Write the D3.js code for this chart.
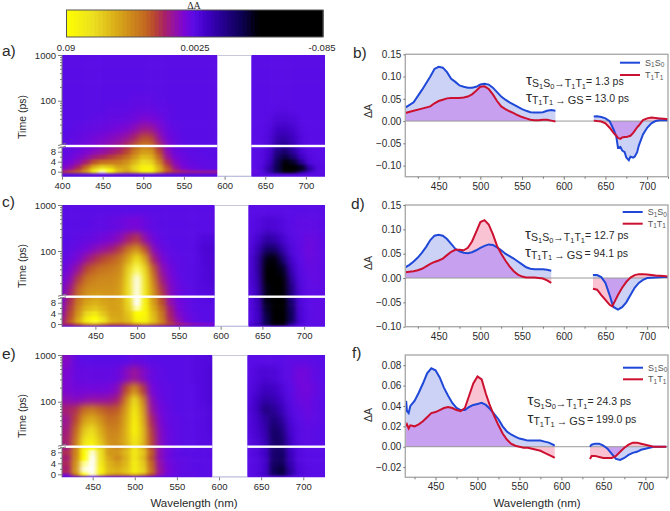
<!DOCTYPE html>
<html><head><meta charset="utf-8">
<script src="https://cdn.jsdelivr.net/npm/d3@7"></script>
<style>html,body{margin:0;padding:0;background:#fff}svg{display:block}svg text{font-family:"Liberation Sans",Arial,sans-serif;fill:#2a2a2a}</style>
</head><body>
<svg id="c" width="670" height="511" viewBox="0 0 670 511"></svg>
<script>
// ---------- colour key (values in 1e-3 dA) ----------
const colorValues=[-85,-41,-30,-15,-5,3,9,16,23,30,37,55,72,90,93,97];
const colorHex=["#000000","#000000","#0c0050","#2a0098","#4200c8","#5a0ce6","#7806d8","#9410a8","#a82068","#b84830","#c46c20","#d8a818","#ece020","#ffff00","#ffff60","#ffffff"];
const barLabels=["0.09","0.0025","-0.085"];
const heatTimes=[-1,0,1,2,4,6,8,10,15,25,40,70,110,180,350,1000];
const timeMajorLow=[0,4,8];
const timeMinorLow=[2,6,10];
const timeMajorHigh=[100,1000];
const timeMinorHigh=[20,30,40,50,60,70,80,90,200,300,400,500,600,700,800,900];

// ---------- heat map a ----------
const colsAL=[400,410,420,430,440,450,460,470,480,490,500,510,520,530,540,550,560,570,580,590];
const colsR=[635,645,655,665,675,685,695,705,715,725];
const heatAL=[
[2,2,2,2,2,2,2,2,2,2,2,2,2,2,2,2,2,2,2,2],
[25,30,35,50,80,96,90,60,50,60,80,80,50,30,25,22,20,20,20,20],
[12,18,28,45,75,92,85,60,55,70,85,85,60,35,20,12,8,6,5,5],
[9,13,22,35,55,66,62,52,55,68,82,80,55,30,16,9,6,5,4,4],
[6,9,14,22,32,38,40,42,48,60,72,68,45,24,12,7,5,4,4,4],
[5,6,10,14,20,24,28,32,38,50,62,58,36,18,9,6,4,4,3,3],
[4,5,7,10,13,16,20,24,30,42,52,50,30,14,7,5,4,3,3,3],
[4,4,6,8,10,13,16,20,26,36,44,42,26,12,6,4,3,3,3,3],
[3,4,5,6,8,10,12,14,18,24,32,30,17,8,5,3,3,3,3,3],
[3,3,4,5,5,6,7,9,10,14,19,18,11,6,4,3,3,3,3,3],
[3,3,3,3,4,4,5,5,6,7,10,9,7,4,3,3,3,3,3,3],
[3,3,3,3,3,3,4,4,4,5,5,5,4,4,3,3,3,3,3,3],
[3,3,3,3,3,3,3,3,3,4,4,4,3,3,3,3,3,3,3,3],
[3,3,3,3,3,3,3,3,3,3,3,3,3,3,3,3,3,3,3,3],
[3,3,3,3,3,3,3,3,3,3,3,3,3,3,3,3,3,3,3,3],
[3,3,3,3,3,3,3,3,3,3,3,3,3,3,3,3,3,3,3,3]];
const heatAR=[
[2,2,2,2,2,2,2,2,2,2],
[6,2,-10,-30,-45,-40,-20,-3,2,3],
[3,0,-12,-30,-50,-50,-38,-15,0,2],
[3,1,-10,-30,-48,-50,-35,-8,1,3],
[3,2,-6,-28,-40,-35,-15,0,2,3],
[3,2,-4,-24,-32,-22,-6,1,3,3],
[3,2,-3,-20,-25,-14,-2,2,3,3],
[3,3,-1,-14,-18,-10,0,3,3,3],
[3,3,0,-10,-12,-6,1,3,3,3],
[3,3,1,-5,-6,-3,2,3,3,3],
[3,3,2,-1,-1,0,3,3,3,3],
[3,3,3,2,2,3,3,3,3,3],
[3,3,3,3,3,3,3,3,3,3],
[3,3,3,3,3,3,3,3,3,3],
[3,3,3,3,3,3,3,3,3,3],
[3,3,3,3,3,3,3,3,3,3]];

// ---------- heat map c ----------
const colsCL=[410,420,430,440,450,460,470,480,490,500,510,520,530,540,550,560,570,580,590];
const heatCL=[
[3,3,3,3,3,3,3,3,3,3,3,3,3,3,3,3,3,3,3],
[22,25,35,50,55,45,35,35,40,50,55,45,35,28,22,18,14,12,10],
[20,35,58,80,92,74,58,55,60,82,80,62,44,26,15,8,5,4,4],
[18,32,55,80,90,72,56,55,62,86,84,62,42,24,13,7,4,3,3],
[15,30,50,70,78,64,54,54,64,90,86,60,40,22,11,6,4,3,3],
[13,28,46,60,64,58,52,54,68,95,84,56,36,20,9,5,3,3,3],
[11,26,42,54,58,54,52,54,70,97,82,52,32,16,8,5,3,2,2],
[10,24,40,50,54,52,50,54,72,99,80,50,30,14,7,4,3,2,1],
[8,20,36,46,48,48,48,52,74,99,78,48,26,12,6,4,2,1,0],
[7,14,28,40,44,46,46,50,72,99,76,42,20,10,5,3,2,0,-1],
[5,10,18,30,36,40,42,46,68,93,70,34,15,8,4,3,2,0,-1],
[4,6,10,18,25,30,34,40,55,75,55,22,10,5,4,3,3,-1,-1],
[3,4,6,9,13,17,21,28,40,50,32,13,6,4,3,3,2,-2,-2],
[3,3,4,5,6,8,10,14,22,27,15,7,4,3,3,3,3,0,0],
[3,3,3,3,4,4,5,6,8,9,6,4,3,3,3,3,3,3,3],
[3,3,3,3,3,3,3,3,3,3,3,3,3,3,3,3,3,3,3]];
const heatCR=[
[3,3,3,3,3,3,3,3,3,3],
[-2,-10,-30,-50,-40,-15,0,3,3,3],
[2,-5,-30,-60,-55,-25,-3,3,4,4],
[2,-5,-30,-60,-58,-28,-3,3,4,4],
[2,-5,-32,-60,-58,-28,-2,3,4,4],
[1,-6,-34,-60,-58,-26,-2,3,4,4],
[1,-7,-36,-60,-55,-24,-1,3,4,4],
[1,-8,-38,-60,-52,-20,0,4,4,4],
[1,-8,-38,-60,-52,-20,0,4,4,4],
[0,-10,-42,-58,-46,-14,1,4,5,4],
[0,-12,-45,-52,-36,-8,2,5,5,4],
[0,-12,-38,-40,-22,-3,3,6,5,4],
[1,-8,-25,-25,-10,0,4,7,5,4],
[2,-3,-12,-10,-3,2,4,6,5,4],
[3,1,-2,-1,1,3,4,4,4,3],
[3,3,3,3,3,3,3,3,3,3]];

// ---------- heat map e ----------
const colsEL=[420,430,440,450,460,470,480,490,500,510,520,530,540,550,560,570,580,590];
const heatEL=[
[3,3,3,3,3,3,3,3,3,3,3,3,3,3,3,3,3,3],
[12,40,90,96,70,50,45,50,60,50,30,15,8,5,4,4,3,3],
[25,50,95,100,85,62,58,65,82,70,40,18,9,5,4,4,3,3],
[22,50,96,100,82,60,56,62,80,68,38,17,9,5,4,3,3,3],
[24,48,94,100,78,58,52,60,80,66,36,16,8,5,4,3,3,3],
[22,45,90,98,74,54,46,58,78,62,32,14,7,4,4,3,3,2],
[25,44,88,96,72,50,50,60,78,64,34,14,7,4,3,3,3,2],
[20,42,82,90,68,50,46,56,76,60,30,13,7,4,3,3,2,2],
[22,40,74,80,62,46,48,58,80,62,30,13,6,4,3,3,2,1],
[20,36,64,72,56,44,44,58,86,62,28,12,6,4,3,3,2,0],
[18,30,52,58,48,38,40,56,84,58,24,10,5,4,3,3,2,0],
[22,26,38,42,36,32,34,52,80,54,18,8,5,3,3,3,2,0],
[14,12,14,16,16,17,22,44,72,46,14,6,4,3,3,3,1,-1],
[10,8,8,8,8,9,13,30,48,28,9,5,4,3,3,3,1,-1],
[10,6,5,5,5,5,6,12,18,12,6,4,3,3,3,2,1,-1],
[12,5,3,3,3,3,3,3,5,4,3,3,3,3,3,2,1,0]];
const heatER=[
[3,3,3,3,3,3,3,3,3,3],
[3,0,-5,-25,-30,-12,0,2,3,3],
[3,1,-4,-28,-32,-14,-1,2,3,3],
[3,1,-4,-28,-32,-12,0,2,3,3],
[3,1,-4,-26,-28,-10,0,3,3,3],
[3,1,-4,-24,-26,-8,1,3,3,3],
[3,0,-5,-24,-25,-7,1,3,3,3],
[2,0,-6,-24,-24,-6,1,3,3,3],
[2,-2,-8,-26,-24,-5,2,4,3,3],
[1,-3,-10,-26,-20,-3,2,4,3,3],
[1,-4,-12,-22,-14,-1,3,5,4,3],
[0,-6,-20,-16,-8,1,4,6,4,3],
[1,-5,-12,-10,-4,2,6,7,4,3],
[2,-2,-7,-6,-1,3,7,8,5,3],
[3,0,-2,-1,2,4,8,7,4,3],
[3,3,3,3,3,4,4,4,3,3]];

// ---------- spectra b ----------
const wlBL=[410,420,430,440,445,450,455,460,465,470,475,480,485,490,495,500,505,510,515,520,525,530,535,540,545,550,555,560,565,570,575,580,585,590];
const s1BL=[.03,.042,.07,.10,.117,.122,.12,.11,.095,.088,.08,.077,.075,.075,.077,.082,.084,.082,.075,.065,.055,.048,.042,.037,.032,.027,.023,.02,.019,.019,.02,.023,.025,.023];
const t1BL=[.018,.023,.028,.033,.04,.045,.048,.051,.052,.052,.052,.053,.055,.06,.068,.077,.078,.072,.06,.045,.033,.027,.022,.018,.013,.009,.006,.003,.002,.002,.003,.003,.001,-.001];
const wlBR=[636,640,645,650,655,660,663,665,668,670,673,675,678,680,683,685,688,690,695,700,705,710,715,720,725];
const s1BR=[.01,.011,.009,.006,0,-.02,-.035,-.06,-.058,-.066,-.07,-.082,-.088,-.08,-.082,-.08,-.07,-.055,-.03,-.015,-.005,0,.002,.002,.002];
const t1BR=[.001,0,-.001,-.005,-.015,-.027,-.033,-.038,-.04,-.037,-.036,-.036,-.034,-.033,-.027,-.022,-.014,-.01,.002,.006,.008,.007,.006,.005,.004];

// ---------- spectra d ----------
const wlDL=[410,415,420,425,430,435,440,445,450,455,460,465,470,475,480,485,490,495,500,505,510,515,520,525,530,535,540,545,550,555,560,565,570,575,580,585];
const s1DL=[.022,.027,.034,.042,.052,.064,.078,.087,.089,.087,.08,.07,.06,.055,.052,.051,.053,.057,.062,.066,.069,.068,.063,.057,.05,.045,.04,.034,.028,.022,.019,.018,.018,.018,.017,.015];
const t1DL=[.012,.013,.014,.016,.019,.024,.029,.033,.036,.04,.047,.054,.058,.058,.057,.062,.075,.095,.115,.119,.11,.09,.066,.05,.036,.024,.014,.007,.003,.001,.001,.001,0,-.001,-.005,-.01];
const wlDR=[635,640,645,650,655,658,660,665,670,675,680,685,690,695,700,710,720,725];
const s1DR=[.006,.006,.002,-.01,-.035,-.052,-.06,-.065,-.06,-.05,-.035,-.02,-.01,-.004,0,.001,.002,.002];
const t1DR=[-.022,-.024,-.035,-.045,-.055,-.058,-.052,-.035,-.02,-.008,.001,.006,.008,.008,.007,.005,.004,.003];

// ---------- spectra f ----------
const wlFL=[415,416,418,420,425,430,435,440,445,450,455,460,465,470,475,480,485,490,495,500,505,510,515,520,525,530,535,540,545,550,555,560,565,570,575,580,585,590,592];
const s1FL=[.045,.035,.033,.04,.045,.053,.062,.072,.077,.075,.068,.058,.05,.043,.038,.036,.036,.039,.041,.042,.043,.041,.037,.032,.027,.02,.015,.012,.01,.008,.007,.006,.006,.006,.006,.005,.004,.002,.001];
const t1FL=[.02,.022,.018,.021,.02,.022,.025,.029,.033,.034,.036,.038,.039,.038,.036,.035,.038,.05,.062,.069,.066,.052,.04,.03,.021,.013,.007,.003,.001,0,-.001,-.001,-.002,-.003,-.004,-.006,-.008,-.01,-.011];
const wlFR=[634,636,640,645,650,655,660,665,670,675,680,685,690,695,700,705,710,715,720,725];
const s1FR=[0,.002,.003,.003,.001,-.002,-.007,-.012,-.013,-.011,-.008,-.006,-.005,-.003,-.002,-.001,0,0,0,0];
const t1FR=[-.012,-.009,-.009,-.01,-.011,-.011,-.011,-.009,-.005,-.001,.002,.004,.004,.003,.002,.001,0,0,0,0];

const xMajor=[400,450,500,550,600,650,700];
const xMinor=[425,475,525,575,625,675,725];
const ticksB=[-.10,-.05,0,.05,.10,.15];
const ticksD=[-.10,-.05,0,.05,.10,.15];
const ticksF=[-.02,0,.02,.04,.06,.08];

// ---------- drawing ----------
const svg=d3.select("#c");
const defs=svg.append("defs");
const AXC="#7a7a7a";
const FONT='"Liberation Sans",Arial,sans-serif';
const col=d3.scaleLinear().domain(colorValues).range(colorHex).clamp(true);

function addBlur(id,sd){
  const f=defs.append("filter").attr("id",id).attr("x","-20%").attr("y","-20%").attr("width","140%").attr("height","140%")
    .attr("color-interpolation-filters","sRGB");
  f.append("feGaussianBlur").attr("stdDeviation",sd);
}
addBlur("blLow","2.8 1.1");
addBlur("blHigh","3.2 3.4");

// colour bar
const barX=d3.scaleLinear().domain([0,.5,1]).range([90,2.5,-85]);
const barPos=d3.scaleLinear().domain([0,1]).range([66.5,323]);
svg.append("g").selectAll("rect").data(d3.range(0,1,1/64)).join("rect")
  .attr("x",d=>barPos(d)).attr("y",10).attr("width",barPos(1/64)-barPos(0)+.5).attr("height",27)
  .attr("fill",d=>col(barX(d+1/128)));
svg.append("rect").attr("x",66.5).attr("y",10).attr("width",256.5).attr("height",27).attr("fill","none").attr("stroke","#555").attr("stroke-width",1);
svg.append("text").text("ΔA").attr("x",194).attr("y",8.5).attr("text-anchor","middle").attr("font-size",10).style("font-family","'Liberation Serif',serif");
[[66,barLabels[0]],[195,barLabels[1]],[322,barLabels[2]]].forEach(([x,t])=>{
  svg.append("text").text(t).attr("x",x).attr("y",50.5).attr("text-anchor","middle").attr("font-size",9.5);
});

function cellEdges(centres,lo,hi){
  const e=[lo];
  for(let i=1;i<centres.length;i++) e.push((centres[i-1]+centres[i])/2);
  e.push(hi);
  return e;
}

function heatPanel(o){
  const xS=d3.scaleLinear().domain(o.xd).range([62,325]);
  const lowS=d3.scaleLinear().domain([0,8]).range([o.y0,o.y8]);
  const hiS=d3.scaleLog().domain([100,1000]).range([o.y100,o.top]);
  const tY=t=>t<=10?lowS(t):hiS(t);
  const rowY=heatTimes.map(tY);
  const rowE=cellEdges(rowY,o.bottom+20,o.top-20);
  const g=svg.append("g");
  defs.append("clipPath").attr("id","up"+o.name).append("rect").attr("x",0).attr("y",o.top).attr("width",670).attr("height",o.brk-o.top);
  defs.append("clipPath").attr("id","lo"+o.name).append("rect").attr("x",0).attr("y",o.brk).attr("width",670).attr("height",o.bottom-o.brk);
  [[o.colsL,o.heatL,xS(o.xd[0]),o.gapL,"L"],[colsR,o.heatR,o.gapR,325,"R"]].forEach(([cols,mat,x0,x1,k])=>{
    const id="clip"+o.name+k;
    defs.append("clipPath").attr("id",id).append("rect").attr("x",x0).attr("y",o.top).attr("width",x1-x0).attr("height",o.bottom-o.top);
    const cx=cols.map(c=>xS(c));
    const colE=cellEdges(cx,Math.min(x0,cx[0])-20,x1+20);
    const clip=g.append("g").attr("clip-path",`url(#${id})`);
    const cells=[];
    mat.forEach((row,r)=>row.forEach((v,c)=>cells.push({r,c,v})));
    [["blLow","lo"],["blHigh","up"]].forEach(([fl,part])=>{
      const wrap=clip.append("g").attr("clip-path",`url(#${part}${o.name})`);
      wrap.append("g").attr("filter",`url(#${fl})`).selectAll("rect").data(cells).join("rect")
        .attr("x",d=>colE[d.c]-.3).attr("width",d=>colE[d.c+1]-colE[d.c]+.6)
        .attr("y",d=>rowE[d.r+1]-.3).attr("height",d=>rowE[d.r]-rowE[d.r+1]+.6)
        .attr("fill",d=>col(d.v));
    });
    g.append("rect").attr("x",x0).attr("width",x1-x0).attr("y",o.brk-1.2).attr("height",2.4).attr("fill","#fff");
  });
  g.append("rect").attr("x",o.gapL).attr("width",o.gapR-o.gapL).attr("y",o.bottom-1).attr("height",1.2).attr("fill","#b9b9dc");
  g.append("rect").attr("x",o.gapL).attr("width",o.gapR-o.gapL).attr("y",o.top).attr("height",1).attr("fill","#c8c8d8");
  const ax=svg.append("g");
  const style=s=>{s.selectAll("path,line").attr("stroke",AXC);s.attr("font-family",FONT);s.selectAll("text").attr("font-size",9.5).style("font-family",FONT);};
  ax.append("g").attr("transform","translate(62,0)").call(d3.axisLeft(lowS).tickValues(timeMajorLow).tickSize(4).tickSizeOuter(0).tickPadding(2)).call(style).select(".domain").remove();
  ax.append("g").attr("transform","translate(62,0)").call(d3.axisLeft(lowS).tickValues(timeMinorLow).tickSize(2).tickFormat("")).call(style).select(".domain").remove();
  ax.append("g").attr("transform","translate(62,0)").call(d3.axisLeft(hiS).tickValues(timeMajorHigh).tickSize(4).tickFormat(d3.format("d")).tickPadding(2)).call(style).select(".domain").remove();
  ax.append("g").attr("transform","translate(62,0)").call(d3.axisLeft(hiS).tickValues(timeMinorHigh).tickSize(2).tickFormat("")).call(style).select(".domain").remove();
  ax.append("line").attr("x1",62).attr("x2",62).attr("y1",o.top).attr("y2",o.brk-2).attr("stroke",AXC);
  ax.append("line").attr("x1",62).attr("x2",62).attr("y1",o.brk+2).attr("y2",o.bottom).attr("stroke",AXC);
  ax.append("path").attr("d",`M58,${o.brk-.5}L66,${o.brk-2.5}M58,${o.brk+2.2}L66,${o.brk+.2}`).attr("stroke",AXC).attr("fill","none");
  const xt=xMajor.filter(v=>v>=o.xd[0]&&v<=o.xd[1]);
  ax.append("g").attr("transform",`translate(0,${o.bottom})`).call(d3.axisBottom(xS).tickValues(xt).tickSize(3).tickPadding(3)).call(style).select(".domain").remove();
  svg.append("text").text("Time (ps)").attr("transform",`translate(26,${o.tc}) rotate(-90)`).attr("text-anchor","middle").attr("font-size",10.5);
  svg.append("text").text(o.label).attr("x",2).attr("y",o.labelY).attr("font-size",15.5);
}

heatPanel({name:"a",label:"a)",labelY:56,xd:[400,723.5],colsL:colsAL,heatL:heatAL,heatR:heatAR,gapL:217.3,gapR:251.3,top:55,bottom:176.7,y0:171.7,y8:151.7,y100:100.7,brk:146,tc:117});
heatPanel({name:"c",label:"c)",labelY:207,xd:[410,725],colsL:colsCL,heatL:heatCL,heatR:heatCR,gapL:214.7,gapR:248.3,top:205,bottom:326.7,y0:324,y8:302.7,y100:251,brk:296.7,tc:266});
heatPanel({name:"e",label:"e)",labelY:359,xd:[413.6,725.8],colsL:colsEL,heatL:heatEL,heatR:heatER,gapL:212.3,gapR:247.3,top:355,bottom:477.3,y0:474.3,y8:452.3,y100:401.7,brk:446.7,tc:416});
svg.append("text").text("Wavelength (nm)").attr("x",194).attr("y",507).attr("text-anchor","middle").attr("font-size",11.5);

function rich(x,y,segs,fill){
  const t=svg.append("text").attr("x",x).attr("y",y);
  if(fill) t.style("fill",fill);
  let cur=0;
  segs.forEach(([s,size,off,dx])=>{
    const ts=t.append("tspan").text(s).attr("font-size",size).attr("dy",off-cur).style("white-space","pre");
    if(dx) ts.attr("dx",dx);
    cur=off;
  });
  return t;
}

function specPanel(o){
  const xS=d3.scaleLinear().domain(o.xd).range([405.3,668]);
  const yS=d3.scaleLinear().domain(o.yd).range([o.bottom,o.top]);
  const g=svg.append("g");
  const area=d3.area().x(d=>xS(d.w)).y0(yS(0));
  const line=d3.line().x(d=>xS(d.w)).y(d=>yS(d.v));
  o.blocks.forEach(([wl,s,t])=>{
    const S=wl.map((w,i)=>({w,v:s[i]})), T=wl.map((w,i)=>({w,v:t[i]}));
    const O=wl.map((w,i)=>({w,v:s[i]*t[i]>0?(s[i]>0?Math.min(s[i],t[i]):Math.max(s[i],t[i])):0}));
    g.append("path").datum(S).attr("d",area.y1(d=>yS(d.v))).attr("fill","#cbd2f6");
    g.append("path").datum(T).attr("d",area.y1(d=>yS(d.v))).attr("fill","#f9c3d3");
    g.append("path").datum(O).attr("d",area.y1(d=>yS(d.v))).attr("fill","#c8a0f0");
  });
  g.append("line").attr("x1",405.3).attr("x2",668).attr("y1",yS(0)).attr("y2",yS(0)).attr("stroke","#999").attr("stroke-width",1);
  o.blocks.forEach(([wl,s,t])=>{
    g.append("path").datum(wl.map((w,i)=>({w,v:s[i]}))).attr("d",line).attr("fill","none").attr("stroke","#1f48d8").attr("stroke-width",2);
    g.append("path").datum(wl.map((w,i)=>({w,v:t[i]}))).attr("d",line).attr("fill","none").attr("stroke","#cc1030").attr("stroke-width",2);
  });
  svg.append("rect").attr("x",405.3).attr("y",o.top).attr("width",262.7).attr("height",o.bottom-o.top).attr("fill","none").attr("stroke","#ababab").attr("stroke-width",1.4);
  const style=s=>{s.selectAll("path,line").attr("stroke",AXC);s.selectAll("text").attr("font-size",10).style("font-family",FONT);s.select(".domain").remove();};
  const xt=xMajor.filter(v=>v>=o.xd[0]&&v<=o.xd[1]);
  svg.append("g").attr("transform",`translate(0,${o.bottom})`).call(d3.axisBottom(xS).tickValues(xt).tickSize(3).tickPadding(3)).call(style);
  svg.append("g").attr("transform",`translate(0,${o.bottom})`).call(d3.axisBottom(xS).tickValues(xMinor.filter(v=>v>=o.xd[0]&&v<=o.xd[1])).tickSize(2).tickFormat("")).call(style);
  svg.append("g").attr("transform","translate(405.3,0)").call(d3.axisLeft(yS).tickValues(o.yt).tickSize(2).tickPadding(2).tickFormat(d3.format(".2f"))).call(style);
  svg.append("text").text("ΔA").attr("transform",`translate(372,${o.tc}) rotate(-90)`).attr("text-anchor","middle").attr("font-size",10.5);
  svg.append("text").text(o.label).attr("x",o.lx).attr("y",o.labelY).attr("font-size",15.5);
  [["#1f48d8",o.ly1,"S","1","S","0"],["#cc1030",o.ly2,"T","1","T","1"]].forEach(([c,y,a,b,d,e])=>{
    svg.append("line").attr("x1",o.lgx).attr("x2",o.lgx+20).attr("y1",y).attr("y2",y).attr("stroke",c).attr("stroke-width",2);
    rich(o.lgx+25,y+3,[[a,9,0],[b,6.5,1.5],[d,9,0],[e,6.5,1.5]],"#555");
  });
  const sm=10.5, sb=7.5, lg=10.5;
  rich(o.ax,o.ay1,[["τ",15,0],["S",sm,2],["1",sb,3.5],["S",sm,2],["0",sb,3.5],["→",sm,2],["T",sm,2],["1",sb,3.5],["T",sm,2],["1",sb,3.5],["= "+o.tau1+" ps",lg,0]]);
  rich(o.ax,o.ay2,[["τ",15,0],["T",sm,2],["1",sb,3.5],["T",sm,2],["1",sb,3.5],["→",sm,2,2],["GS",sm+.5,2,2],["= "+o.tau2+" ps",lg,0,2]]);
}

specPanel({label:"b)",lx:353,labelY:58,xd:[410,725],yd:[-.125,.15],top:54.3,bottom:176.7,yt:ticksB,tc:111,lgx:620,ly1:62.7,ly2:75,ax:526,ay1:85,ay2:101.5,tau1:"1.3",tau2:"13.0",
  blocks:[[wlBL,s1BL,t1BL],[wlBR,s1BR,t1BR]]});
specPanel({label:"d)",lx:351,labelY:209,xd:[410,725],yd:[-.10,.15],top:205,bottom:326.7,yt:ticksD,tc:263,lgx:622.7,ly1:212,ly2:223.7,ax:525,ay1:239,ay2:256.5,tau1:"12.7",tau2:"94.1",
  blocks:[[wlDL,s1DL,t1DL],[wlDR,s1DR,t1DR]]});
specPanel({label:"f)",lx:352,labelY:358,xd:[414,727],yd:[-.03,.09],top:355,bottom:477.3,yt:ticksF,tc:415,lgx:623,ly1:367.7,ly2:379.3,ax:527.5,ay1:405,ay2:423,tau1:"24.3",tau2:"199.0",
  blocks:[[wlFL,s1FL,t1FL],[wlFR,s1FR,t1FR]]});
svg.append("text").text("Wavelength (nm)").attr("x",537).attr("y",507).attr("text-anchor","middle").attr("font-size",11.5);
</script>
</body></html>
